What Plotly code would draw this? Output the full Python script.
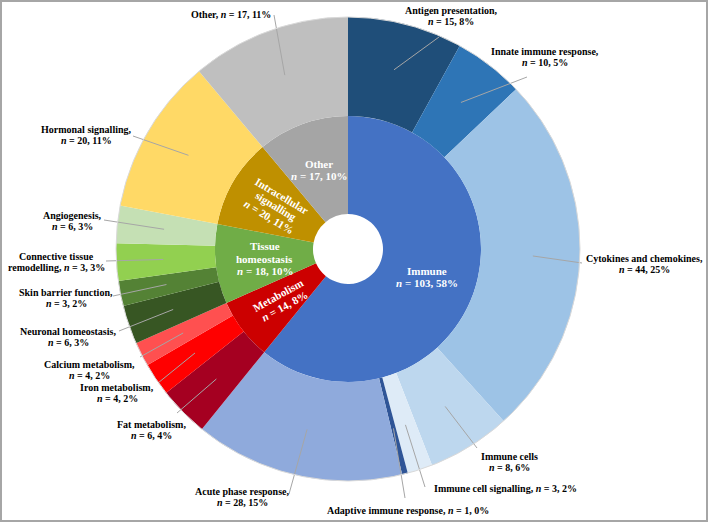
import math
import plotly.graph_objects as go

# ---------------- data ----------------
groups = ["Immune", "Metabolism", "Tissue homeostasis", "Intracellular signalling", "Other"]
group_n = [103, 14, 18, 20, 17]
group_pct = [58, 8, 10, 11, 10]

subcats = ["Antigen presentation", "Innate immune response", "Cytokines and chemokines",
           "Immune cells", "Immune cell signalling", "Adaptive immune response",
           "Acute phase response", "Fat metabolism", "Iron metabolism", "Calcium metabolism",
           "Neuronal homeostasis", "Skin barrier function", "Connective tissue remodelling",
           "Angiogenesis", "Hormonal signalling", "Other"]
sub_parent = ["Immune"] * 7 + ["Metabolism"] * 3 + ["Tissue homeostasis"] * 4 + \
             ["Intracellular signalling", "Other"]
sub_n = [15, 10, 44, 8, 3, 1, 28, 6, 4, 4, 6, 3, 3, 6, 20, 17]
sub_pct = [8, 5, 25, 6, 2, 0, 15, 4, 2, 2, 3, 2, 3, 3, 11, 11]
# slice shares (percent of circle)
sub_share = [8.0, 4.9, 25.4, 5.8, 1.75, 0.4, 14.6, 3.5, 2.3, 1.7, 2.7, 1.75, 2.6, 2.6, 10.9, 11.1]

# ---------------- styles ----------------
group_colors = ["#4472C4", "#CC0000", "#70AD47", "#BF9000", "#A5A5A5"]
sub_colors = ["#1F4E79", "#2E75B6", "#9DC3E6", "#BDD7EE", "#DEEBF7", "#2F5597", "#8FAADC",
              "#A50021", "#FF0000", "#FF5050", "#375623", "#548235", "#92D050", "#C5E0B4",
              "#FFD966", "#BFBFBF"]
# label text templates
sub_fmt = ["{name},<br>{n}", "{name},<br>{n}", "{name},<br>{n}", "{name}<br>{n}",
           "{name}, {n}", "{name}, {n}", "{name},<br>{n}", "{name},<br>{n}",
           "{name},<br>{n}", "{name},<br>{n}", "{name},<br>{n}", "{name},<br>{n}",
           "Connective tissue<br>remodelling, {n}", "{name},<br>{n}", "{name},<br>{n}",
           "{name}, {n}"]
# label centres and leader-line start points (pixels)
label_pos = [(451, 16), (545, 57), (644, 264), (509, 462), (505, 488), (408, 510),
             (242, 497), (151, 430), (117, 393), (89, 370), (68, 337), (66, 298),
             (56, 262), (72, 221), (86, 135), (231, 15)]
line_start = [(439, 37), (527, 77), (582, 263), (477, 448), (425, 487), (405, 498),
              (289, 494), (177, 413), (158, 383), (140, 357), (119, 331), (113, 296),
              (106, 261), (104, 220), (133, 136), (274, 15)]
group_fmt = ["{name}<br>{n}", "{name}<br>{n}", "Tissue<br>homeostasis<br>{n}",
             "Intracellular<br>signalling<br>{n}", "{name}<br>{n}"]
group_angle = [0, -29, 0, 31, 0]

W, H = 709, 523
CX, CY = 348, 249
R_OUT, R_MID, R_HOLE = 232, 133, 35
R_INNER_LABEL, R_ANCHOR = 84, 185
FONT = "Liberation Serif"
OUT_SIZE, OUT_LH = 10, 10.8
IN_SIZE, IN_LH = 11, 12.5

# inner values = sum of child shares
group_vals = [sum(s for s, p in zip(sub_share, sub_parent) if p == g) for g in groups]


def px2paper(x, y):
    return x / W, 1 - y / H


def dom(r):
    return dict(x=[(CX - r) / W, (CX + r) / W], y=[(H - CY - r) / H, (H - CY + r) / H])


fig = go.Figure()
fig.add_trace(go.Pie(values=group_vals, labels=groups, sort=False, direction="clockwise",
                     rotation=0, hole=R_HOLE / R_MID, textinfo="none", hoverinfo="label",
                     marker=dict(colors=group_colors, line=dict(width=0)),
                     domain=dom(R_MID), showlegend=False))
fig.add_trace(go.Pie(values=sub_share, labels=subcats, sort=False, direction="clockwise",
                     rotation=0, hole=R_MID / R_OUT, textinfo="none", hoverinfo="label",
                     marker=dict(colors=sub_colors, line=dict(width=0)),
                     domain=dom(R_OUT), showlegend=False))


def mid_angles(vals):
    tot = sum(vals)
    out, cum = [], 0
    for v in vals:
        out.append((cum + v / 2) / tot * 2 * math.pi)
        cum += v
    return out


annotations, shapes = [], []


def add_text(txt, cx, cy, size, lh, color, angle=0):
    lines = txt.split("<br>")
    a = math.radians(angle)
    dx, dy = -math.sin(a), math.cos(a)
    for k, line in enumerate(lines):
        off = (k - (len(lines) - 1) / 2) * lh
        x, y = px2paper(cx + off * dx, cy + off * dy)
        annotations.append(dict(x=x, y=y, xref="paper", yref="paper", showarrow=False,
                                text=f"<b>{line}</b>", xanchor="center", yanchor="middle",
                                textangle=angle,
                                font=dict(family=FONT, size=size, color=color)))


# outer labels with leader lines
for i, ang in enumerate(mid_angles(sub_share)):
    ax_ = CX + R_ANCHOR * math.sin(ang)
    ay_ = CY - R_ANCHOR * math.cos(ang)
    sx, sy = line_start[i]
    x0, y0 = px2paper(sx, sy)
    x1, y1 = px2paper(ax_, ay_)
    shapes.append(dict(type="line", xref="paper", yref="paper", x0=x0, y0=y0, x1=x1, y1=y1,
                       line=dict(color="#A6A6A6", width=1)))
    ntxt = f"<i>n</i> = {sub_n[i]}, {sub_pct[i]}%"
    txt = sub_fmt[i].format(name=subcats[i], n=ntxt)
    add_text(txt, label_pos[i][0], label_pos[i][1], OUT_SIZE, OUT_LH, "black")

# inner labels
for i, ang in enumerate(mid_angles(group_vals)):
    lx = CX + R_INNER_LABEL * math.sin(ang)
    ly = CY - R_INNER_LABEL * math.cos(ang)
    ntxt = f"<i>n</i> = {group_n[i]}, {group_pct[i]}%"
    txt = group_fmt[i].format(name=groups[i], n=ntxt)
    add_text(txt, lx, ly, IN_SIZE, IN_LH, "white", group_angle[i])

# outer circle outline
cx0, cy0 = px2paper(CX - R_OUT, CY - R_OUT)
cx1, cy1 = px2paper(CX + R_OUT, CY + R_OUT)
shapes.append(dict(type="circle", xref="paper", yref="paper", x0=cx0, y0=cy0, x1=cx1, y1=cy1,
                   line=dict(color="#D9D9D9", width=1)))
# frame
fx0, fy0 = px2paper(1, 1)
fx1, fy1 = px2paper(707, 521)
shapes.append(dict(type="rect", xref="paper", yref="paper", x0=fx0, y0=fy0, x1=fx1, y1=fy1,
                   line=dict(color="#A6A6A6", width=2)))

fig.update_layout(width=W, height=H, margin=dict(l=0, r=0, t=0, b=0),
                  paper_bgcolor="white", plot_bgcolor="white", showlegend=False,
                  annotations=annotations, shapes=shapes)
fig.write_html("out.html", config={"displayModeBar": False},
               post_script="document.body.style.margin='0';document.body.style.overflow='hidden';")
